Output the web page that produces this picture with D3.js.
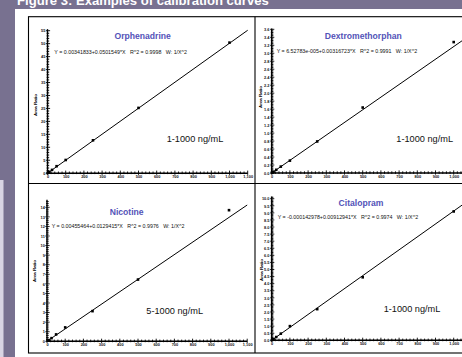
<!DOCTYPE html>
<html>
<head>
<meta charset="utf-8">
<script src="https://cdn.jsdelivr.net/npm/d3@7"></script>
<style>
  body { margin: 0; background: #fff; }
  svg { display: block; font-family: "Liberation Sans", Arial, sans-serif; }
</style>
</head>
<body>
<svg id="chart" width="462" height="357"></svg>
<script>
// calibration data
const compounds = ["Orphenadrine", "Dextromethorphan", "Nicotine", "Citalopram"];
const equations = [
  "Y = 0.00341833+0.0501549*X   R^2 = 0.9998   W: 1/X^2",
  "Y = 6.52783e-005+0.00316723*X   R^2 = 0.9991   W: 1/X^2",
  "Y = 0.00455464+0.0129415*X   R^2 = 0.9976   W: 1/X^2",
  "Y = -0.000142978+0.00912941*X   R^2 = 0.9974   W: 1/X^2"
];
const rangeLabels = ["1-1000 ng/mL", "1-1000 ng/mL", "5-1000 ng/mL", "1-1000 ng/mL"];
const intercepts = [0.00341833, 6.52783e-5, 0.00455464, -0.000142978];
const slopes = [0.0501549, 0.00316723, 0.0129415, 0.00912941];

const conc = [1, 5, 10, 25, 50, 100, 250, 500, 1000];
const nicotineConc = [5, 10, 25, 50, 100, 250, 500, 1000];
const orphenadrineRatio = [0.05, 0.25, 0.5, 1.27, 2.7, 5.1, 12.7, 25.2, 50.4];
const dextromethorphanRatio = [0.0033, 0.016, 0.032, 0.08, 0.16, 0.31, 0.79, 1.64, 3.28];
const nicotineRatio = [0.065, 0.13, 0.33, 0.72, 1.45, 3.15, 6.45, 13.7];
const citalopramRatio = [0.009, 0.046, 0.09, 0.23, 0.47, 1.0, 2.2, 4.45, 9.1];

const xTicks = d3.range(0, 1101, 100);
const yMaxLabel = [55, 3.6, 14, 10];
const yStep = [5, 0.2, 1, 0.5];
const yDomainTop = [55.6, 3.62, 14.8, 10.15];
const yDecimals = [0, 1, 0, 1];

const concs = [conc, conc, nicotineConc, conc];
const ratios = [orphenadrineRatio, dextromethorphanRatio, nicotineRatio, citalopramRatio];

// layout (pixels)
const layout = [
  { ox: 47.5, oy: 173.2, ytop: 30.7, tx: 142.7, ty: 39.2, ex: 54.3, ey: 53.6, rx: 195, ry: 141.5, ax: 36.5, ay: 105 },
  { ox: 271.7, oy: 173, ytop: 29.3, tx: 363.3, ty: 38.9, ex: 276.7, ey: 52.9, rx: 424.7, ry: 142.3, ax: 261.8, ay: 97 },
  { ox: 47, oy: 341.3, ytop: 207.3, tx: 126.7, ty: 214.5, ex: 51.7, ey: 227.6, rx: 174.7, ry: 313.6, ax: 35.8, ay: 271 },
  { ox: 271.7, oy: 340.3, ytop: 198.7, tx: 361, ty: 205.5, ex: 277.7, ey: 218.9, rx: 412, ry: 312.3, ax: 262.5, ay: 270 }
];
const pxPer100 = 18.2;
const W = 462;

const svg = d3.select("#chart");
const purple = "#787190";

svg.append("rect").attr("width", W).attr("height", 357).attr("fill", "#fff");
svg.append("rect").attr("x", 0).attr("y", 0).attr("width", W).attr("height", 9).attr("fill", purple);
svg.append("rect").attr("x", 0).attr("y", 0).attr("width", 15).attr("height", 357).attr("fill", purple);
svg.append("rect").attr("x", 0).attr("y", 180).attr("width", 3.5).attr("height", 177).attr("fill", "#d9d5e3");

svg.append("text")
  .attr("x", 17).attr("y", 4.8)
  .attr("fill", "#fff")
  .style("font-size", "13.1px")
  .style("font-weight", "bold")
  .text("Figure 3: Examples of calibration curves");

// panel frames
const frame = svg.append("g").attr("fill", "none").attr("stroke", "#000").attr("stroke-width", 1.1);
frame.append("rect").attr("x", 28.5).attr("y", 16.7).attr("width", 500).attr("height", 336.3);
frame.append("line").attr("x1", 255).attr("x2", 255).attr("y1", 16.7).attr("y2", 353);
frame.append("line").attr("x1", 28.5).attr("x2", 470).attr("y1", 183.5).attr("y2", 183.5);

compounds.forEach((name, i) => {
  const L = layout[i];
  const x = d3.scaleLinear().domain([0, 1100]).range([L.ox, L.ox + pxPer100 * 11]);
  const y = d3.scaleLinear().domain([0, yMaxLabel[i]]).range([L.oy, L.ytop]);
  const g = svg.append("g");
  const fmt = d3.format("." + yDecimals[i] + "f");

  // minor ticks, crossing the axis
  const xMinor = d3.range(0, 1101, 20);
  g.append("g").selectAll("line").data(xMinor).join("line")
    .attr("x1", d => x(d)).attr("x2", d => x(d))
    .attr("y1", d => L.oy + (d % 100 === 0 ? 1.6 : 0.9))
    .attr("y2", d => L.oy - (d % 100 === 0 ? 2.6 : 1.7))
    .attr("stroke", "#000").attr("stroke-width", 0.9);
  const yMinor = d3.range(0, Math.round(yDomainTop[i] / (yStep[i] / 5))).map(k => k * yStep[i] / 5);
  g.append("g").selectAll("line").data(yMinor).join("line")
    .attr("y1", d => y(d)).attr("y2", d => y(d))
    .attr("x1", (d, k) => L.ox - (k % 5 === 0 ? 1.6 : 0.9))
    .attr("x2", (d, k) => L.ox + (k % 5 === 0 ? 2.6 : 1.7))
    .attr("stroke", "#000").attr("stroke-width", 0.9);

  // axes
  const xAxis = g.append("g")
    .attr("transform", `translate(0,${L.oy})`)
    .call(d3.axisBottom(x).tickValues(xTicks.filter(d => x(d) + 6 < W)).tickSize(0).tickPadding(2.2).tickSizeOuter(0));
  xAxis.select(".domain").attr("d", `M${L.ox},0H${x(1100)}`).attr("stroke-width", 1.4);
  xAxis.selectAll("text").style("font-size", "3.9px").style("font-weight", "bold").attr("fill", "#111");

  const yTicks = d3.range(0, yMaxLabel[i] + yStep[i] / 2, yStep[i]);
  const yAxis = g.append("g")
    .attr("transform", `translate(${L.ox},0)`)
    .call(d3.axisLeft(y).tickValues(yTicks).tickFormat(fmt).tickSize(0).tickPadding(2.2).tickSizeOuter(0));
  yAxis.select(".domain").attr("d", `M0,${L.oy}V${y(yDomainTop[i])}`).attr("stroke-width", 1.4);
  yAxis.selectAll("text").style("font-size", "3.9px").style("font-weight", "bold").attr("fill", "#111");

  g.append("text")
    .attr("transform", `translate(${L.ax},${L.ay}) rotate(-90)`)
    .attr("text-anchor", "middle")
    .style("font-size", "4.4px").style("font-weight", "bold")
    .text("Area Ratio");

  // regression line
  const line = d3.line().x(d => x(d)).y(d => y(intercepts[i] + slopes[i] * d));
  g.append("path")
    .datum([0, 1100])
    .attr("d", line)
    .attr("fill", "none")
    .attr("stroke", "#000")
    .attr("stroke-width", 1);

  // calibration points
  g.selectAll("rect.pt").data(concs[i].map((c, k) => [c, ratios[i][k]])).join("rect")
    .attr("class", "pt")
    .attr("x", d => x(d[0]) - 1.3).attr("y", d => y(d[1]) - 1.3)
    .attr("width", 2.6).attr("height", 2.6)
    .attr("fill", "#000");

  g.append("text")
    .attr("x", L.tx).attr("y", L.ty)
    .attr("text-anchor", "middle")
    .attr("fill", "#5353b8")
    .style("font-size", "8.6px").style("font-weight", "bold")
    .text(name);

  g.append("text")
    .attr("x", L.ex).attr("y", L.ey)
    .style("font-size", "5.3px")
    .style("white-space", "pre")
    .attr("fill", "#111")
    .text(equations[i]);

  g.append("text")
    .attr("x", L.rx).attr("y", L.ry)
    .attr("text-anchor", "middle")
    .attr("fill", "#111")
    .style("font-size", "9.2px")
    .text(rangeLabels[i]);
});
</script>
</body>
</html>
